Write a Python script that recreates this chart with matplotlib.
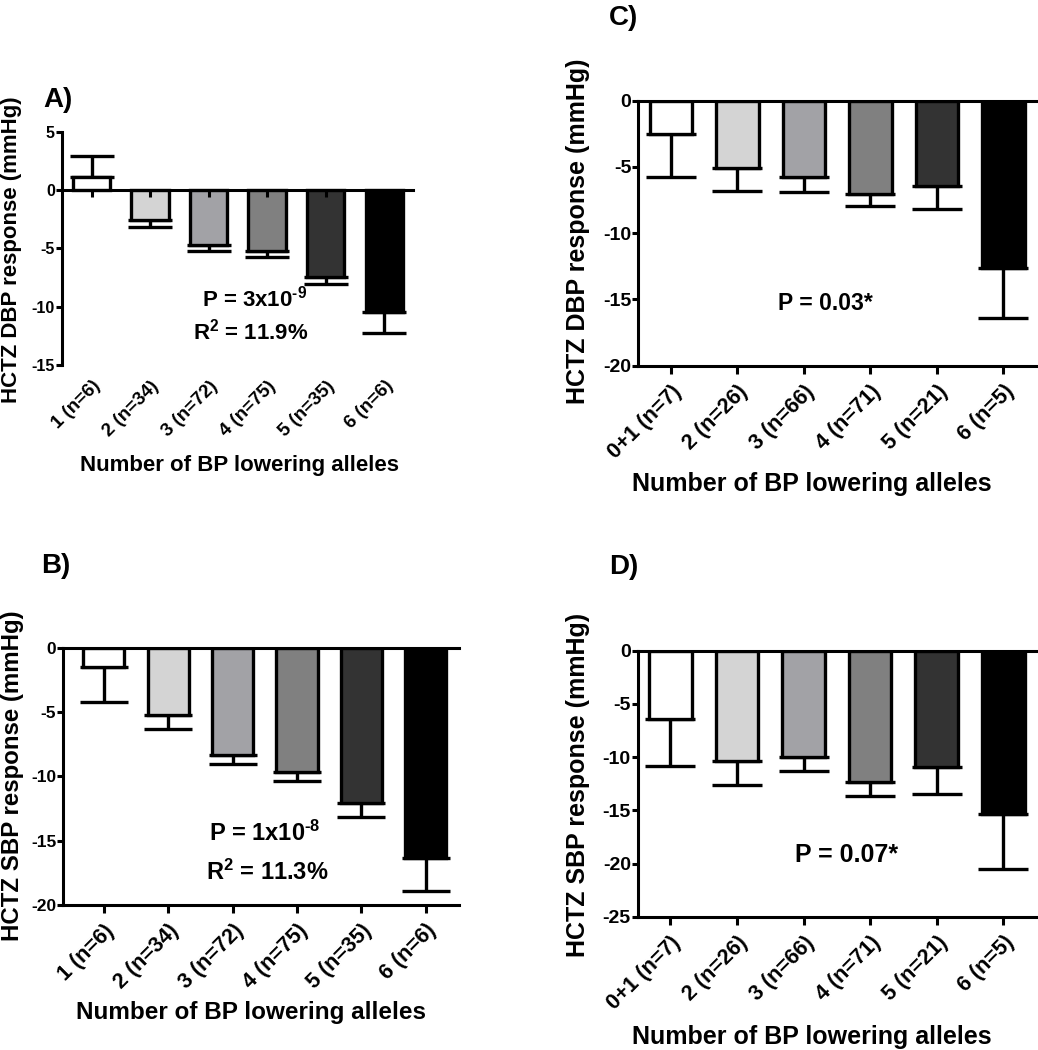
import numpy as np
import matplotlib
matplotlib.use("Agg")
import matplotlib.pyplot as plt

plt.rcParams['font.family'] = ['Liberation Sans', 'DejaVu Sans']
plt.rcParams['font.weight'] = 'bold'
plt.rcParams['axes.unicode_minus'] = False
plt.rcParams['mathtext.fontset'] = 'custom'
plt.rcParams['mathtext.rm'] = 'Liberation Sans:bold'
plt.rcParams['mathtext.bf'] = 'Liberation Sans:bold'
plt.rcParams['mathtext.default'] = 'bf'

# groups
labels_ab = ['1 (n=6)', '2 (n=34)', '3 (n=72)', '4 (n=75)', '5 (n=35)', '6 (n=6)']
labels_cd = ['0+1 (n=7)', '2 (n=26)', '3 (n=66)', '4 (n=71)', '5 (n=21)', '6 (n=5)']

# A) DBP, discovery
dbp_a = [1.15, -2.57, -4.71, -5.23, -7.43, -10.48]
dbp_a_err = [1.8, 0.63, 0.49, 0.48, 0.63, 1.81]
# B) SBP, discovery
sbp_b = [-1.53, -5.23, -8.34, -9.68, -12.04, -16.31]
sbp_b_err = [2.67, 1.11, 0.70, 0.68, 1.09, 2.64]
# C) DBP, replication
dbp_c = [-2.51, -5.10, -5.79, -7.04, -6.41, -12.65]
dbp_c_err = [3.22, 1.69, 1.08, 0.91, 1.76, 3.73]
# D) SBP, replication
sbp_d = [-6.45, -10.34, -9.96, -12.31, -10.96, -15.35]
sbp_d_err = [4.35, 2.28, 1.35, 1.35, 2.54, 5.17]

colors = ['white', '#d4d4d4', '#a2a2a6', '#808080', '#333333', 'black']

W, H = 1038, 1050
fig = plt.figure(figsize=(W / 100, H / 100), dpi=100)


def box(x0, x1, ytop, ybot):
    return [x0 / W, 1 - ybot / H, (x1 - x0) / W, (ybot - ytop) / H]


def fx(x):
    return x / W


def fy(y):
    return 1 - y / H


def panel(rect, vals, errs, labels, ylim, yticks, xlim, ytick_fs, xtick_fs,
          cap, zero_axis=False):
    ax = fig.add_axes(rect)
    x = np.arange(len(vals))
    vals = np.array(vals)
    errs = np.array(errs)
    ax.bar(x, vals, width=0.64, color=colors, edgecolor='black', linewidth=2.4, zorder=2)
    lower = np.where(vals < 0, errs, 0)
    upper = np.where(vals >= 0, errs, 0)
    ax.errorbar(x, vals, yerr=[lower, upper], fmt='none', ecolor='black',
                elinewidth=2.4, capsize=cap, capthick=2.4, zorder=1)
    ax.set_xlim(*xlim)
    ax.set_ylim(*ylim)
    ax.set_yticks(yticks)
    ax.set_yticklabels([str(t) for t in yticks], fontsize=ytick_fs, fontweight='bold')
    ax.spines['right'].set_visible(False)
    for s in ax.spines.values():
        s.set_linewidth(2.2)
    ax.tick_params(axis='y', length=4, width=2.2, pad=1)
    ax.set_axisbelow(False)
    if zero_axis:
        ax.spines['top'].set_visible(False)
        ax.spines['bottom'].set_position(('data', 0))
        ax.set_xticks(x)
        ax.tick_params(axis='x', length=5, width=2.2, labelbottom=False)
        sec = ax.secondary_xaxis('bottom')
        sec.set_xticks(x)
        sec.set_xticklabels(labels, rotation=45, ha='right', rotation_mode='anchor',
                            fontsize=xtick_fs, fontweight='bold')
        sec.spines['bottom'].set_visible(False)
        sec.tick_params(axis='x', length=0, pad=9)
    else:
        ax.set_xticks(x)
        ax.set_xticklabels(labels, rotation=45, ha='right', rotation_mode='anchor',
                           fontsize=xtick_fs, fontweight='bold')
        ax.tick_params(axis='x', length=6, width=2.2, pad=5)
    return ax


panel(box(61.7, 413, 131.7, 365), dbp_a, dbp_a_err, labels_ab, (-15, 5),
      [5, 0, -5, -10, -15], (-0.51, 5.49), 11.5, 13.5, 16, zero_axis=True)
panel(box(63.3, 459.3, 647.7, 905), sbp_b, sbp_b_err, labels_ab, (-20, 0),
      [0, -5, -10, -15, -20], (-0.63, 5.52), 12.5, 15.5, 17)
panel(box(638.3, 1038, 100.7, 365.7), dbp_c, dbp_c_err, labels_cd, (-20, 0),
      [0, -5, -10, -15, -20], (-0.49, 5.52), 14, 15.5, 18)
panel(box(637.7, 1038, 650.7, 916.7), sbp_d, sbp_d_err, labels_cd, (-25, 0),
      [0, -5, -10, -15, -20, -25], (-0.49, 5.52), 14, 15.5, 18)

# panel letters
for lab, px, py in [('A)', 58, 100), ('B)', 56, 566), ('C)', 623, 18), ('D)', 624, 567)]:
    fig.text(fx(px), fy(py), lab, fontsize=20, fontweight='bold', ha='center', va='center')

# axis titles
xlab = 'Number of BP lowering alleles'
fig.text(fx(240), fy(465), xlab, fontsize=16, fontweight='bold', ha='center', va='center')
fig.text(fx(251), fy(1013), xlab, fontsize=17.5, fontweight='bold', ha='center', va='center')
fig.text(fx(812), fy(484), xlab, fontsize=18, fontweight='bold', ha='center', va='center')
fig.text(fx(812), fy(1037), xlab, fontsize=18, fontweight='bold', ha='center', va='center')

fig.text(fx(12), fy(250), 'HCTZ DBP response (mmHg)', fontsize=16, fontweight='bold',
         rotation=90, ha='center', va='center')
fig.text(fx(13), fy(776), 'HCTZ SBP response (mmHg)', fontsize=17.3, fontweight='bold',
         rotation=90, ha='center', va='center')
fig.text(fx(578), fy(231), 'HCTZ DBP response (mmHg)', fontsize=18, fontweight='bold',
         rotation=90, ha='center', va='center')
fig.text(fx(578), fy(785), 'HCTZ SBP response (mmHg)', fontsize=18,
         fontweight='bold', rotation=90, ha='center', va='center')

# statistics
fig.text(fx(255), fy(299), r'P = 3x10$^{\text{-9}}$', fontsize=16, ha='center', va='center')
fig.text(fx(251), fy(332), r'R$^{2}$ = 11.9%', fontsize=16, ha='center', va='center')
fig.text(fx(265), fy(833), r'P = 1x10$^{\text{-8}}$', fontsize=17, ha='center', va='center')
fig.text(fx(267), fy(872), r'R$^{2}$ = 11.3%', fontsize=17, ha='center', va='center')
fig.text(fx(825), fy(303), 'P = 0.03*', fontsize=16.5, ha='center', va='center')
fig.text(fx(847), fy(855), 'P = 0.07*', fontsize=18, ha='center', va='center')

fig.savefig('out.png', dpi=100)
